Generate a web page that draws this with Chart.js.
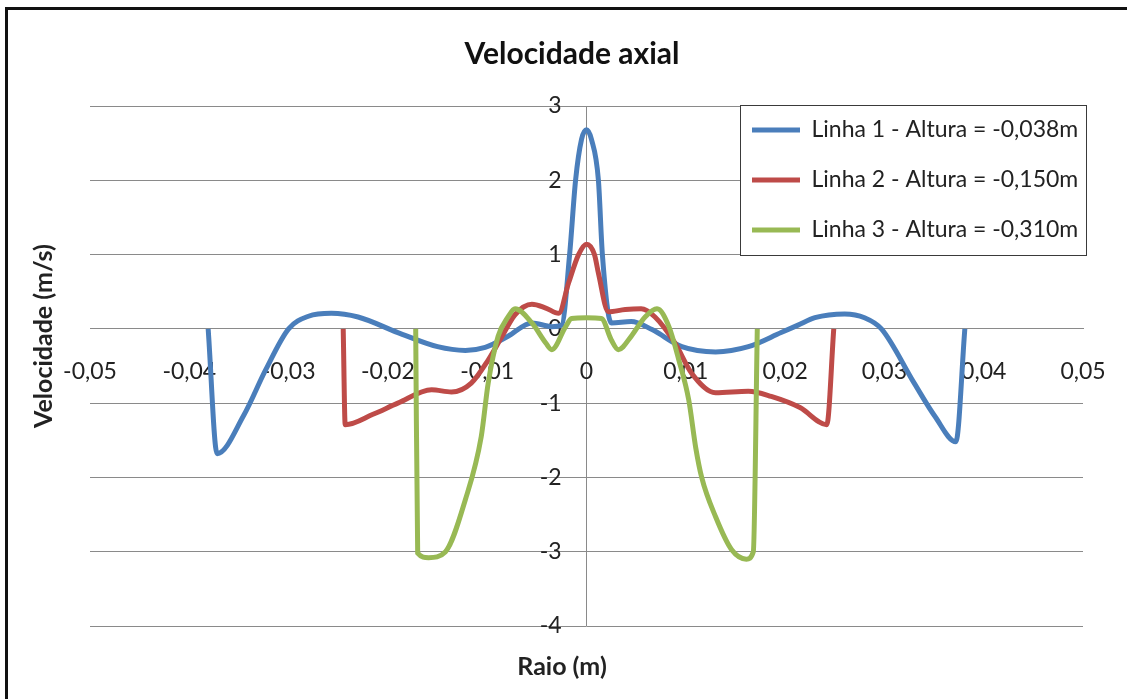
<!DOCTYPE html>
<html>
<head>
<meta charset="utf-8">
<script src="https://cdn.jsdelivr.net/npm/chart.js@4.4.0/dist/chart.umd.min.js"></script>
<style>
  html, body { margin: 0; background: #fff; overflow: hidden; }
  #wrap { position: relative; width: 1127px; height: 699px; }
  #velocity-chart { display: block; }
  #frame { position: absolute; left: 5px; top: 7px; width: 1130px; height: 700px; border-top: 3px solid #111; border-left: 3px solid #111; pointer-events: none; }
</style>
</head>
<body>
<div id="wrap">
  <canvas id="velocity-chart" width="1127" height="699"></canvas>
  <div id="frame"></div>
</div>
<script>
//Labels
var chartTitle = 'Velocidade axial';
var xTitle = 'Raio (m)';
var yTitle = 'Velocidade (m/s)';
var seriesLabels = ['Linha 1 - Altura = -0,038m', 'Linha 2 - Altura = -0,150m', 'Linha 3 - Altura = -0,310m'];

//Axis ranges
var xMin = -0.05, xMax = 0.05, xStep = 0.01;
var yMin = -4, yMax = 3, yStep = 1;

//Linha 1 (raio, velocidade)
var line1_x = [-0.0381, -0.0372, -0.0345, -0.0323, -0.0300, -0.0280, -0.0257, -0.0230, -0.0190, -0.0150, -0.0122, -0.0102,
  -0.0079, -0.0055, -0.0035, -0.0025, -0.0017, -0.0011, -0.0005, 0, 0.0005, 0.0012, 0.0016, 0.0025, 0.0045, 0.0066,
  0.0096, 0.0130, 0.0163, 0.0196, 0.0213, 0.0230, 0.0260, 0.0280, 0.0297, 0.0330, 0.0351, 0.0372, 0.0381];
var line1_y = [0, -1.68, -1.16, -0.55, 0, 0.17, 0.21, 0.16, -0.05, -0.24, -0.29, -0.25,
  -0.10, 0.08, 0.03, 0.05, 1.0, 2.0, 2.55, 2.68, 2.55, 2.0, 1.0, 0.08, 0.10, -0.01,
  -0.24, -0.31, -0.24, -0.05, 0.05, 0.15, 0.20, 0.15, 0, -0.73, -1.18, -1.52, 0];

//Linha 2
var line2_x = [-0.0245, -0.0243, -0.0215, -0.0190, -0.0156, -0.0136, -0.0116, -0.0099, -0.0085, -0.0072, -0.0055, -0.0041,
  -0.0028, -0.0018, -0.0008, 0, 0.0008, 0.0012, 0.0022, 0.0039, 0.0055, 0.0069, 0.0089, 0.0106, 0.0130, 0.0163,
  0.0186, 0.0215, 0.0242, 0.0249];
var line2_y = [0, -1.29, -1.15, -1.0, -0.82, -0.85, -0.73, -0.42, -0.10, 0.19, 0.33, 0.28,
  0.21, 0.62, 1.0, 1.14, 1.0, 0.75, 0.23, 0.26, 0.27, 0.16, -0.19, -0.60, -0.86, -0.84,
  -0.91, -1.06, -1.29, 0];

//Linha 3
var line3_x = [-0.0172, -0.0170, -0.0159, -0.0142, -0.0122, -0.0106, -0.0099, -0.0089, -0.0079, -0.0072, -0.0055, -0.0041,
  -0.0035, -0.0021, -0.0015, 0, 0.0015, 0.0025, 0.0032, 0.0045, 0.0059, 0.0071, 0.0083, 0.0093, 0.0103, 0.0110,
  0.0116, 0.0130, 0.0146, 0.0161, 0.0168, 0.0172];
var line3_y = [0, -3.02, -3.08, -3.0, -2.3, -1.45, -0.73, -0.10, 0.16, 0.27, 0.08, -0.19,
  -0.28, 0.03, 0.14, 0.15, 0.14, -0.15, -0.28, -0.10, 0.16, 0.27, 0.03, -0.42, -0.96, -1.6,
  -2.0, -2.53, -2.97, -3.1, -3.0, 0];

var gridColor = '#8a8a8a';
var textColor = '#222';
var fontName = 'Lato';

function toPoints(xs, ys) {
  return xs.map(function(x, i) { return {x: x, y: ys[i]}; });
}

//Decimal comma like the original
function formatTick(value) {
  var v = Math.round(value * 1000) / 1000;
  if (v === 0) return '0';
  return String(v).replace('.', ',');
}

//Legend inside the plot with a framed box, plus axis titles
var chartExtras = {
  id: 'chartExtras',
  afterLayout: function(chart) {
    var lg = chart.legend;
    lg.left = 725;
    lg.top = 91.5;
    lg.right = 1110;
    lg.bottom = 300;
    lg.width = lg.right - lg.left;
    lg.height = lg.bottom - lg.top;
  },
  afterDatasetsDraw: function(chart) {
    var ctx = chart.ctx;
    ctx.save();
    ctx.fillStyle = '#fff';
    ctx.strokeStyle = '#3a3a3a';
    ctx.lineWidth = 1;
    ctx.fillRect(740.5, 105.5, 346, 150);
    ctx.strokeRect(740.5, 105.5, 346, 150);
    ctx.restore();
    chart.legend.draw();
  },
  afterDraw: function(chart) {
    var ctx = chart.ctx;
    ctx.save();
    ctx.fillStyle = textColor;
    ctx.font = 'bold 25px ' + fontName;
    ctx.textAlign = 'center';
    ctx.textBaseline = 'middle';
    ctx.fillText(xTitle, 562, 667);
    ctx.translate(44, 336);
    ctx.rotate(-Math.PI / 2);
    ctx.fillText(yTitle, 0, 0);
    ctx.restore();
  }
};

var velocityChart = new Chart(document.getElementById('velocity-chart'), {
  type: 'scatter',
  data: {
    datasets: [{
      label: seriesLabels[0],
      data: toPoints(line1_x, line1_y),
      borderColor: '#4a7ebb',
      backgroundColor: '#4a7ebb',
      order: 2
    }, {
      label: seriesLabels[1],
      data: toPoints(line2_x, line2_y),
      borderColor: '#be4b48',
      backgroundColor: '#be4b48',
      order: 1
    }, {
      label: seriesLabels[2],
      data: toPoints(line3_x, line3_y),
      borderColor: '#98b954',
      backgroundColor: '#98b954',
      order: 0
    }]
  },
  options: {
    responsive: false,
    animation: false,
    datasets: {
      scatter: {
        showLine: true,
        borderWidth: 5,
        pointRadius: 0,
        pointHoverRadius: 0,
        cubicInterpolationMode: 'monotone',
        xAxisID: 'x',
        yAxisID: 'y'
      }
    },
    layout: {
      padding: { left: 61, right: 44, top: 0, bottom: 73 }
    },
    plugins: {
      title: {
        display: true,
        text: chartTitle,
        color: '#111',
        font: { family: fontName, size: 30, weight: 'bold', lineHeight: 1.2 },
        padding: { top: 36, bottom: 34 }
      },
      legend: {
        position: 'chartArea',
        align: 'start',
        labels: {
          usePointStyle: true,
          pointStyle: 'line',
          pointStyleWidth: 48,
          padding: 27,
          color: textColor,
          font: { family: fontName, size: 23 },
          sort: function(a, b) { return a.datasetIndex - b.datasetIndex; }
        }
      },
      tooltip: { enabled: false }
    },
    scales: {
      x: {
        type: 'linear',
        min: xMin,
        max: xMax,
        position: { y: 0 },
        grid: {
          drawTicks: false,
          lineWidth: 1,
          color: function(c) {
            return (c.tick && Math.abs(c.tick.value) < 1e-9) ? gridColor : 'rgba(0,0,0,0)';
          }
        },
        border: { display: true, color: gridColor, width: 1 },
        ticks: {
          stepSize: xStep,
          padding: 29,
          color: textColor,
          font: { family: fontName, size: 23 },
          maxRotation: 0,
          callback: formatTick
        },
        //labels sit inside the plot, so they must not push the plot edges
        afterFit: function(scale) {
          scale.paddingLeft = 0;
          scale.paddingRight = 0;
        }
      },
      y: {
        type: 'linear',
        min: yMin,
        max: yMax,
        position: { x: -0.0025 },
        grid: { drawTicks: false, color: gridColor, lineWidth: 1 },
        border: { display: false },
        ticks: {
          stepSize: yStep,
          padding: 0,
          color: textColor,
          font: { family: fontName, size: 23 },
          callback: formatTick
        }
      },
      yPad: {
        type: 'linear',
        axis: 'y',
        position: 'left',
        grid: { display: false, drawTicks: false },
        border: { display: false },
        ticks: { display: false },
        afterFit: function(scale) { scale.width = 29; }
      }
    }
  },
  plugins: [chartExtras]
});
</script>
</body>
</html>
